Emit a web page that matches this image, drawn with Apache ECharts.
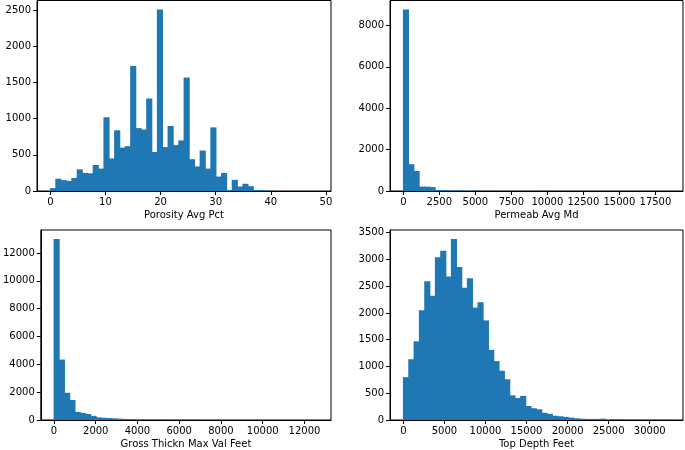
<!DOCTYPE html>
<html>
<head>
<meta charset="utf-8">
<script src="https://cdn.jsdelivr.net/npm/echarts@6/dist/echarts.min.js"></script>
<style>
html,body{margin:0;padding:0;background:#fff;}
#chart{width:685px;height:450px;}
</style>
</head>
<body>
<div id="chart"></div>
<script>
// ---- Data (histogram counts, 50 bins each) ----
var porosityRange = [0, 48.5];
var porosityCounts = [40,170,150,140,180,300,250,245,360,310,1020,450,840,600,620,1730,870,850,1280,540,2510,608,900,635,700,1570,440,340,560,310,880,200,250,12,155,62,100,66,14,14,2,7,0,0,0,0,0,0,0,1];
var porosityTicks = [0,10,20,30,40,50];

var permeabRange = [0, 18490];
var permeabCounts = [8770,1295,968,212,210,190,50,48,32,16,16,10,6,30,5,4,3,2,2,2,1,1,1,1,1,1,20,2,1,1,1,0,0,0,0,0,0,0,0,0,0,0,0,0,0,0,0,0,0,1];
var permeabTicks = [0,2500,5000,7500,10000,12500,15000,17500];

var grossRange = [0, 12640];
var grossCounts = [13000,4340,1955,1440,580,510,428,300,190,160,140,120,95,78,60,48,38,30,24,18,12,10,8,6,5,4,3,3,2,2,2,1,1,1,1,1,1,1,1,1,1,1,1,0,0,0,0,0,0,1];
var grossTicks = [0,2000,4000,6000,8000,10000,12000];

var depthRange = [0, 32430];
var depthCounts = [800,1135,1470,2050,2590,2320,3040,3160,2680,3380,2860,2470,2650,2100,2200,1860,1310,1100,920,760,460,410,450,262,220,200,135,115,80,70,58,45,32,25,20,20,20,25,6,15,15,6,3,3,2,2,1,1,1,1];
var depthTicks = [0,5000,10000,15000,20000,25000,30000];

var yTicks1 = [0,500,1000,1500,2000,2500];
var yTicks2 = [0,2000,4000,6000,8000];
var yTicks3 = [0,2000,4000,6000,8000,10000,12000];
var yTicks4 = [0,500,1000,1500,2000,2500,3000,3500];

var titles = ['Porosity Avg Pct','Permeab Avg Md','Gross Thickn Max Val Feet','Top Depth Feet'];

// ---- Build ----
var panels = [
  {range: porosityRange, counts: porosityCounts, xt: porosityTicks, yt: yTicks1},
  {range: permeabRange, counts: permeabCounts, xt: permeabTicks, yt: yTicks2},
  {range: grossRange, counts: grossCounts, xt: grossTicks, yt: yTicks3},
  {range: depthRange, counts: depthCounts, xt: depthTicks, yt: yTicks4}
];
var grids = [
  {left: 37, top: 0.5, width: 294, height: 190.5},
  {left: 390, top: 0.5, width: 293, height: 190.5},
  {left: 37, top: 230, width: 294, height: 190.5},
  {left: 390, top: 230, width: 293, height: 190.5}
];
var font = {fontFamily: 'DejaVu Sans', fontSize: 10, color: '#000'};
var blue = '#1f77b4';
function plain(v){ return String(v); }

var option = {animation: false, backgroundColor: '#fff', grid: [], xAxis: [], yAxis: [], series: []};

panels.forEach(function(p, i){
  var lo = p.range[0], hi = p.range[1], span = hi - lo, n = p.counts.length, w = span / n;
  var data = p.counts.map(function(c, k){ return [lo + k*w, lo + (k+1)*w, c]; });
  var ymax = Math.max.apply(null, p.counts) * 1.05;
  option.grid.push(Object.assign({show: true, borderColor: '#000', borderWidth: 1, backgroundColor: '#fff'}, grids[i]));
  option.xAxis.push({
    type: 'value', gridIndex: i, min: lo - 0.05*span, max: hi + 0.05*span,
    name: titles[i], nameLocation: 'middle', nameGap: 19,
    nameTextStyle: font,
    axisLine: {show: true, onZero: false, lineStyle: {color: '#000', width: 1}},
    axisTick: {show: true, length: 4, lineStyle: {color: '#000'}, customValues: p.xt},
    axisLabel: Object.assign({margin: 6, customValues: p.xt, formatter: plain}, font),
    splitLine: {show: false}
  });
  option.yAxis.push({
    type: 'value', gridIndex: i, min: 0, max: ymax,
    axisLine: {show: true, onZero: false, lineStyle: {color: '#000', width: 1}},
    axisTick: {show: true, length: 4, lineStyle: {color: '#000'}, customValues: p.yt},
    axisLabel: Object.assign({margin: 6, customValues: p.yt, formatter: plain}, font),
    splitLine: {show: false}
  });
  option.series.push({
    type: 'custom', xAxisIndex: i, yAxisIndex: i, z: 1,
    encode: {x: [0, 1], y: 2},
    data: data,
    renderItem: function(params, api){
      var p0 = api.coord([api.value(0), 0]);
      var p1 = api.coord([api.value(1), api.value(2)]);
      var h = p0[1] - p1[1];
      return {type: 'rect', silent: true,
              shape: {x: p0[0] - 0.4, y: p1[1], width: p1[0] - p0[0] + 0.8, height: h},
              style: {fill: blue, lineWidth: 0}};
    }
  });
});

var chart = echarts.init(document.getElementById('chart'), null, {renderer: 'canvas'});
chart.setOption(option);
</script>
</body>
</html>
